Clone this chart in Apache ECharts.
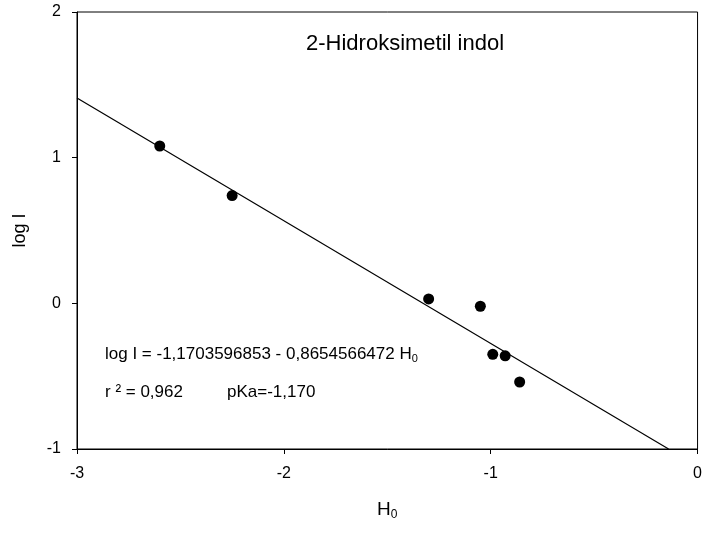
<!DOCTYPE html>
<html>
<head>
<meta charset="utf-8">
<script src="https://cdn.jsdelivr.net/npm/echarts@6/dist/echarts.min.js"></script>
<style>
html,body{margin:0;padding:0;background:#fff;}
#chart{width:705px;height:535px;}
</style>
</head>
<body>
<div id="chart"></div>
<script>
// Data
var h0Values = [-2.60, -2.25, -1.30, -1.05, -0.99, -0.93, -0.86];
var logIValues = [1.08, 0.74, 0.03, -0.02, -0.35, -0.36, -0.54];
// Regression line end points (as drawn in the picture)
var fitX = [-3, -0.14];
var fitY = [1.41, -1];
var xTicks = [-3, -2, -1, 0];
var yTicks = [-1, 0, 1, 2];

var chartTitle = '2-Hidroksimetil indol';
var equationText = 'log I = -1,1703596853 - 0,8654566472 H';
var r2Text = 'r ² = 0,962';
var pkaText = 'pKa=-1,170';

var FONT = 'Liberation Sans, Arial, sans-serif';

var scatterData = h0Values.map(function (x, i) { return [x, logIValues[i]]; });
var lineData = fitX.map(function (x, i) { return [x, fitY[i]]; });

var chart = echarts.init(document.getElementById('chart'), null, {renderer: 'canvas'});
chart.setOption({
  backgroundColor: '#fff',
  animation: false,
  grid: {left: 77, right: 3, top: 12, bottom: 86, show: true, borderColor: '#000', borderWidth: 1},
  xAxis: {
    type: 'value', min: xTicks[0], max: xTicks[xTicks.length - 1], interval: 1,
    name: '{a|H}{b|0}', nameLocation: 'middle', nameGap: 50,
    nameTextStyle: {rich: {
      a: {fontFamily: FONT, fontSize: 19, color: '#000'},
      b: {fontFamily: FONT, fontSize: 12, color: '#000', padding: [10, 0, 0, 0]}
    }},
    axisLine: {show: true, onZero: false, lineStyle: {color: '#000', width: 1}},
    axisTick: {show: true, inside: false, length: 5, lineStyle: {color: '#000'}},
    axisLabel: {color: '#000', fontFamily: FONT, fontSize: 16, margin: 17,
      formatter: function (v) { return String(v); }},
    splitLine: {show: false}
  },
  yAxis: {
    type: 'value', min: yTicks[0], max: yTicks[yTicks.length - 1], interval: 1,
    name: 'log I', nameLocation: 'middle', nameGap: 48,
    nameTextStyle: {fontFamily: FONT, fontSize: 18, color: '#000'},
    axisLine: {show: true, onZero: false, lineStyle: {color: '#000', width: 1}},
    axisTick: {show: true, inside: false, length: 5, lineStyle: {color: '#000'}},
    axisLabel: {color: '#000', fontFamily: FONT, fontSize: 16, margin: 16},
    splitLine: {show: false}
  },
  series: [
    {
      type: 'line', data: lineData, symbol: 'none', silent: true,
      lineStyle: {color: '#000', width: 1.2}
    },
    {
      type: 'scatter', data: scatterData, symbol: 'circle', symbolSize: 11,
      itemStyle: {color: '#000', opacity: 1}
    }
  ],
  graphic: [
    {type: 'text', left: 306, top: 33, style: {text: chartTitle, fill: '#000', font: '22px ' + FONT}},
    {type: 'text', left: 105, top: 346, style: {
      text: '{a|' + equationText + '}{b|0}',
      rich: {
        a: {fontFamily: FONT, fontSize: 17, fill: '#000'},
        b: {fontFamily: FONT, fontSize: 11, fill: '#000', padding: [8, 0, 0, 0]}
      }
    }},
    {type: 'text', left: 105, top: 384, style: {text: r2Text, fill: '#000', font: '17px ' + FONT}},
    {type: 'text', left: 227, top: 384, style: {text: pkaText, fill: '#000', font: '17px ' + FONT}}
  ]
});
</script>
</body>
</html>
